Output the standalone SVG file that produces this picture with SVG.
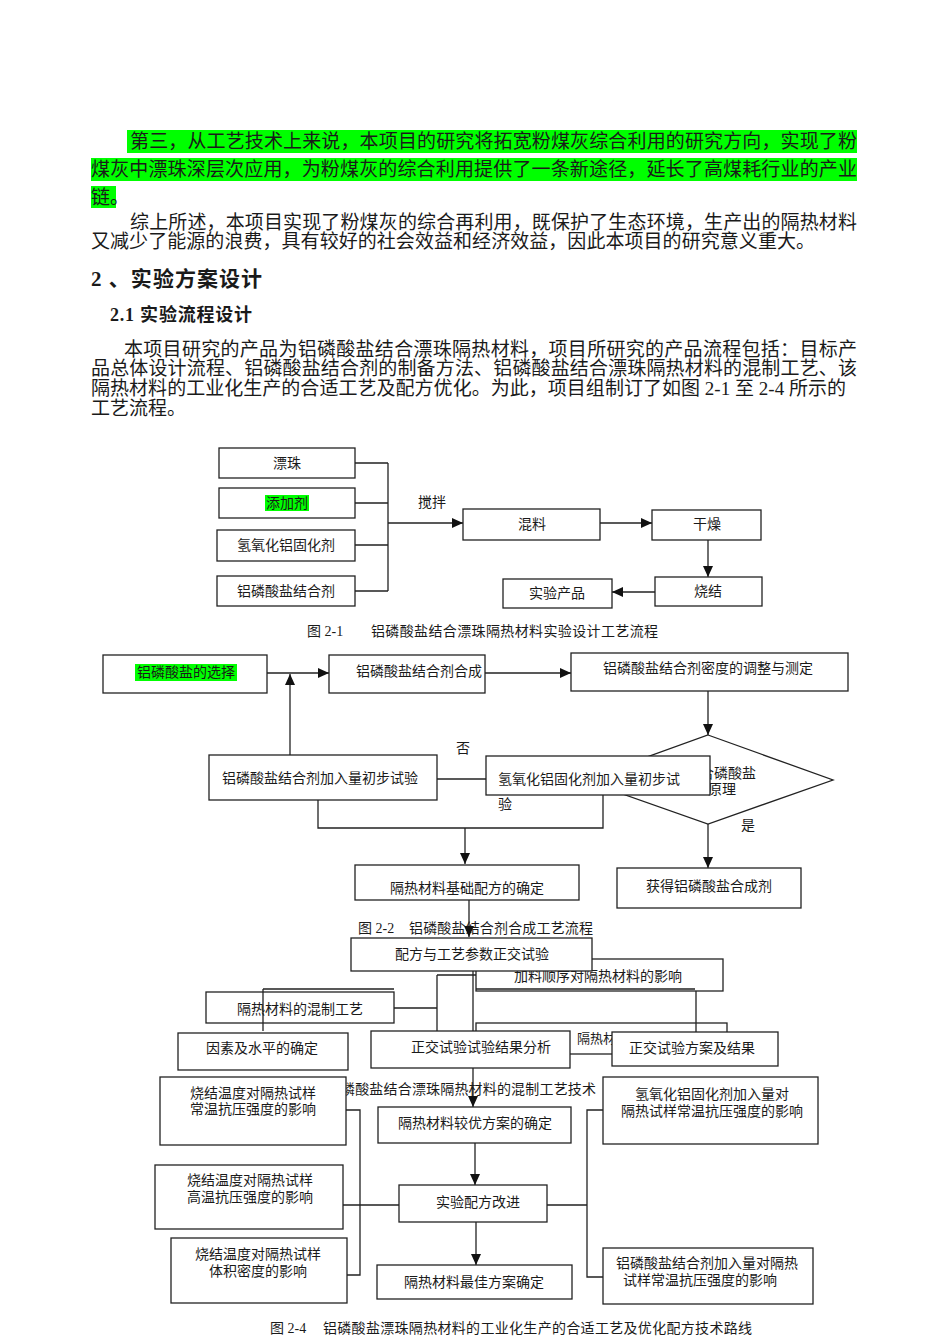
<svg xmlns="http://www.w3.org/2000/svg" width="950" height="1344" viewBox="0 0 950 1344">
<style>
text{font-family:"Liberation Serif","Noto Sans CJK SC",serif;fill:#1a1a1a}
.p{font-size:19px}
.h1{font-size:21px;font-weight:bold}
.h2{font-size:18px;font-weight:bold}
.t{font-size:14px}
.s{font-size:13px}
.m{text-anchor:middle}
.b{fill:#fff;stroke:#222;stroke-width:1.3}
.l{fill:none;stroke:#222;stroke-width:1.3}
.hl{fill:#00ff00}
</style>
<defs>
<marker id="ar" markerUnits="userSpaceOnUse" markerWidth="11" markerHeight="10" refX="11" refY="5" orient="auto">
<path d="M0,0 L11,5 L0,10 z" fill="#111"/>
</marker>
</defs>
<rect width="950" height="1344" fill="#fff"/>

<!-- body text -->
<g id="body-text">
<rect class="hl" x="127" y="130" width="730" height="23"/>
<rect class="hl" x="91" y="158" width="766" height="23"/>
<rect class="hl" x="91" y="186" width="25" height="22"/>
<text class="p" x="130" y="148" textLength="727" lengthAdjust="spacing">第三，从工艺技术上来说，本项目的研究将拓宽粉煤灰综合利用的研究方向，实现了粉</text>
<text class="p" x="91" y="176" textLength="766" lengthAdjust="spacing">煤灰中漂珠深层次应用，为粉煤灰的综合利用提供了一条新途径，延长了高煤耗行业的产业</text>
<text class="p" x="91" y="204">链。</text>
<text class="p" x="130" y="229" textLength="727" lengthAdjust="spacing">综上所述，本项目实现了粉煤灰的综合再利用，既保护了生态环境，生产出的隔热材料</text>
<text class="p" x="91" y="248" textLength="724" lengthAdjust="spacing">又减少了能源的浪费，具有较好的社会效益和经济效益，因此本项目的研究意义重大。</text>
<text class="h1" x="91" y="286" textLength="171" lengthAdjust="spacing">2 、实验方案设计</text>
<text class="h2" x="110" y="321" textLength="142" lengthAdjust="spacing">2.1 实验流程设计</text>
<text class="p" x="124" y="356" textLength="733" lengthAdjust="spacing">本项目研究的产品为铝磷酸盐结合漂珠隔热材料，项目所研究的产品流程包括：目标产</text>
<text class="p" x="91" y="375" textLength="766" lengthAdjust="spacing">品总体设计流程、铝磷酸盐结合剂的制备方法、铝磷酸盐结合漂珠隔热材料的混制工艺、该</text>
<text class="p" x="91" y="395" textLength="755" lengthAdjust="spacing">隔热材料的工业化生产的合适工艺及配方优化。为此，项目组制订了如图 2-1 至 2-4 所示的</text>
<text class="p" x="91" y="415">工艺流程。</text>
</g>

<!-- ===== Figure 2-1 ===== -->
<g id="fig21-connectors">
<path class="l" d="M355,463 H388 M355,503 H388 M355,545 H388 M355,591 H388 M388,463 V591"/>
<line class="l" x1="388" y1="523" x2="463" y2="523" marker-end="url(#ar)"/>
<line class="l" x1="600" y1="523" x2="652" y2="523" marker-end="url(#ar)"/>
<line class="l" x1="708" y1="540" x2="708" y2="577" marker-end="url(#ar)"/>
<line class="l" x1="655" y1="592" x2="612" y2="592" marker-end="url(#ar)"/>
<text class="t m" x="432" y="507">搅拌</text>
</g>
<g id="n-piaozhu"><rect class="b" x="219" y="448" width="136" height="30"/><text class="t m" x="287" y="468">漂珠</text></g>
<g id="n-tianjiaji"><rect class="b" x="219" y="488" width="136" height="30"/><rect class="hl" x="265" y="495" width="44" height="16"/><text class="t m" x="287" y="508">添加剂</text></g>
<g id="n-guhuaji"><rect class="b" x="217" y="530" width="138" height="31"/><text class="t m" x="286" y="550">氢氧化铝固化剂</text></g>
<g id="n-jiehe"><rect class="b" x="217" y="576" width="138" height="30"/><text class="t m" x="286" y="596">铝磷酸盐结合剂</text></g>
<g id="n-hunliao"><rect class="b" x="463" y="509" width="137" height="31"/><text class="t m" x="532" y="529">混料</text></g>
<g id="n-ganzao"><rect class="b" x="652" y="510" width="109" height="30"/><text class="t m" x="707" y="529">干燥</text></g>
<g id="n-shaojie"><rect class="b" x="655" y="577" width="107" height="29"/><text class="t m" x="708" y="596">烧结</text></g>
<g id="n-chanpin"><rect class="b" x="503" y="579" width="109" height="29"/><text class="t m" x="557" y="598">实验产品</text></g>
<g id="cap21"><text class="t" x="307" y="636">图 2-1</text><text class="t" x="371" y="636" textLength="287" lengthAdjust="spacing">铝磷酸盐结合漂珠隔热材料实验设计工艺流程</text></g>

<!-- ===== Figure 2-2 ===== -->
<g id="n-diamond">
<path class="b" d="M708,735 L833,780 L708,824 L583,780 Z"/>
<text class="t" x="700" y="778">合磷酸盐</text>
<text class="t" x="708" y="794">原理</text>
</g>
<g id="fig22-connectors">
<line class="l" x1="267" y1="673" x2="329" y2="673" marker-end="url(#ar)"/>
<line class="l" x1="485" y1="673" x2="571" y2="673" marker-end="url(#ar)"/>
<line class="l" x1="290" y1="755" x2="290" y2="674" marker-end="url(#ar)"/>
<line class="l" x1="708" y1="691" x2="708" y2="735" marker-end="url(#ar)"/>
<line class="l" x1="437" y1="779" x2="486" y2="779"/>
<path class="l" d="M318,800 V828 H603 V795"/>
<line class="l" x1="465" y1="828" x2="465" y2="864" marker-end="url(#ar)"/>
<line class="l" x1="708" y1="824" x2="708" y2="868" marker-end="url(#ar)"/>
<text class="t m" x="463" y="753">否</text>
<text class="t m" x="748" y="830">是</text>
</g>
<g id="n-xuanze"><rect class="b" x="103" y="655" width="164" height="38"/><rect class="hl" x="135" y="664" width="102" height="17"/><text class="t m" x="186" y="677">铝磷酸盐的选择</text></g>
<g id="n-hecheng"><rect class="b" x="329" y="655" width="156" height="38"/><text class="t" x="356" y="676">铝磷酸盐结合剂合成</text></g>
<g id="n-midu"><rect class="b" x="571" y="653" width="277" height="38"/><text class="t" x="603" y="673">铝磷酸盐结合剂密度的调整与测定</text></g>
<g id="n-shiyan1"><rect class="b" x="209" y="755" width="228" height="45"/><text class="t" x="222" y="783">铝磷酸盐结合剂加入量初步试验</text></g>
<g id="n-shiyan2"><rect class="b" x="486" y="756" width="224" height="39"/><text class="t" x="498" y="784">氢氧化铝固化剂加入量初步试</text><text class="t" x="498" y="809">验</text></g>
<g id="n-jichu"><rect class="b" x="355" y="865" width="224" height="35"/><text class="t m" x="467" y="893">隔热材料基础配方的确定</text></g>
<g id="n-huode"><rect class="b" x="617" y="868" width="184" height="40"/><text class="t m" x="709" y="891">获得铝磷酸盐合成剂</text></g>
<g id="cap22"><text class="t" x="358" y="933">图 2-2</text><text class="t" x="409" y="933" textLength="184" lengthAdjust="spacing">铝磷酸盐结合剂合成工艺流程</text></g>
<line class="l" x1="469" y1="900" x2="469" y2="937" marker-end="url(#ar)"/>

<!-- ===== Figure 2-3 (partly hidden) ===== -->
<g id="n-jialiao"><rect class="b" x="476" y="959" width="247" height="32"/><text class="t m" x="598" y="981">加料顺序对隔热材料的影响</text></g>
<g id="n-hidden"><rect class="b" x="476" y="1023" width="251" height="31"/><text class="s" x="577" y="1043">隔热材料</text></g>
<g id="fig23-connectors">
<path class="l" d="M394,1008 H437 M437,975 V1031 M437,975 H476"/>
<line class="l" x1="473" y1="971" x2="473" y2="1031"/>
<path class="l" d="M476,989 H695 M696,991 V1032"/>
<line class="l" x1="473" y1="1068" x2="473" y2="1107" marker-end="url(#ar)"/>
</g>
<g id="n-peifang"><rect class="b" x="351" y="938" width="241" height="33"/><text class="t m" x="472" y="959">配方与工艺参数正交试验</text></g>
<g id="n-hunzhi"><rect class="b" x="206" y="992" width="188" height="31"/><text class="t m" x="300" y="1014">隔热材料的混制工艺</text></g>
<path class="l" d="M263,989 H394 M263,989 V1031"/>
<g id="n-yinsu"><rect class="b" x="178" y="1033" width="170" height="37"/><text class="t m" x="262" y="1053">因素及水平的确定</text></g>
<g id="n-fenxi"><rect class="b" x="371" y="1031" width="199" height="37"/><text class="t m" x="481" y="1052">正交试验试验结果分析</text></g>
<g id="n-jieguo"><rect class="b" x="612" y="1032" width="166" height="34"/><text class="t m" x="692" y="1053">正交试验方案及结果</text></g>
<text class="t" x="341" y="1094" textLength="255" lengthAdjust="spacing">磷酸盐结合漂珠隔热材料的混制工艺技术</text>

<!-- ===== Figure 2-4 ===== -->
<g id="fig24-connectors">
<path class="l" d="M346,1110 H360 V1275 H347 M343,1205 H399"/>
<path class="l" d="M603,1110 H587 V1277 H603 M547,1205 H587"/>
<line class="l" x1="475" y1="1143" x2="475" y2="1185" marker-end="url(#ar)"/>
<line class="l" x1="476" y1="1222" x2="476" y2="1265" marker-end="url(#ar)"/>
</g>
<g id="n-sj1"><rect class="b" x="160" y="1077" width="186" height="68"/><text class="t m" x="253" y="1098">烧结温度对隔热试样</text><text class="t m" x="253" y="1114">常温抗压强度的影响</text></g>
<g id="n-jiaoyou"><rect class="b" x="378" y="1107" width="193" height="36"/><text class="t m" x="475" y="1128">隔热材料较优方案的确定</text></g>
<g id="n-qy"><rect class="b" x="603" y="1077" width="215" height="67"/><text class="t m" x="712" y="1099">氢氧化铝固化剂加入量对</text><text class="t m" x="712" y="1116">隔热试样常温抗压强度的影响</text></g>
<g id="n-sj2"><rect class="b" x="155" y="1165" width="188" height="64"/><text class="t m" x="250" y="1185">烧结温度对隔热试样</text><text class="t m" x="250" y="1202">高温抗压强度的影响</text></g>
<g id="n-gaijin"><rect class="b" x="399" y="1185" width="148" height="37"/><text class="t m" x="478" y="1207">实验配方改进</text></g>
<g id="n-sj3"><rect class="b" x="171" y="1238" width="176" height="65"/><text class="t m" x="258" y="1259">烧结温度对隔热试样</text><text class="t m" x="258" y="1276">体积密度的影响</text></g>
<g id="n-zuijia"><rect class="b" x="377" y="1265" width="195" height="34"/><text class="t m" x="474" y="1287">隔热材料最佳方案确定</text></g>
<g id="n-lls"><rect class="b" x="603" y="1248" width="210" height="56"/><text class="t" x="616" y="1268">铝磷酸盐结合剂加入量对隔热</text><text class="t" x="623" y="1285">试样常温抗压强度的影响</text></g>
<g id="cap24"><text class="t" x="270" y="1333">图 2-4</text><text class="t" x="323" y="1333" textLength="429" lengthAdjust="spacing">铝磷酸盐漂珠隔热材料的工业化生产的合适工艺及优化配方技术路线</text></g>
</svg>
